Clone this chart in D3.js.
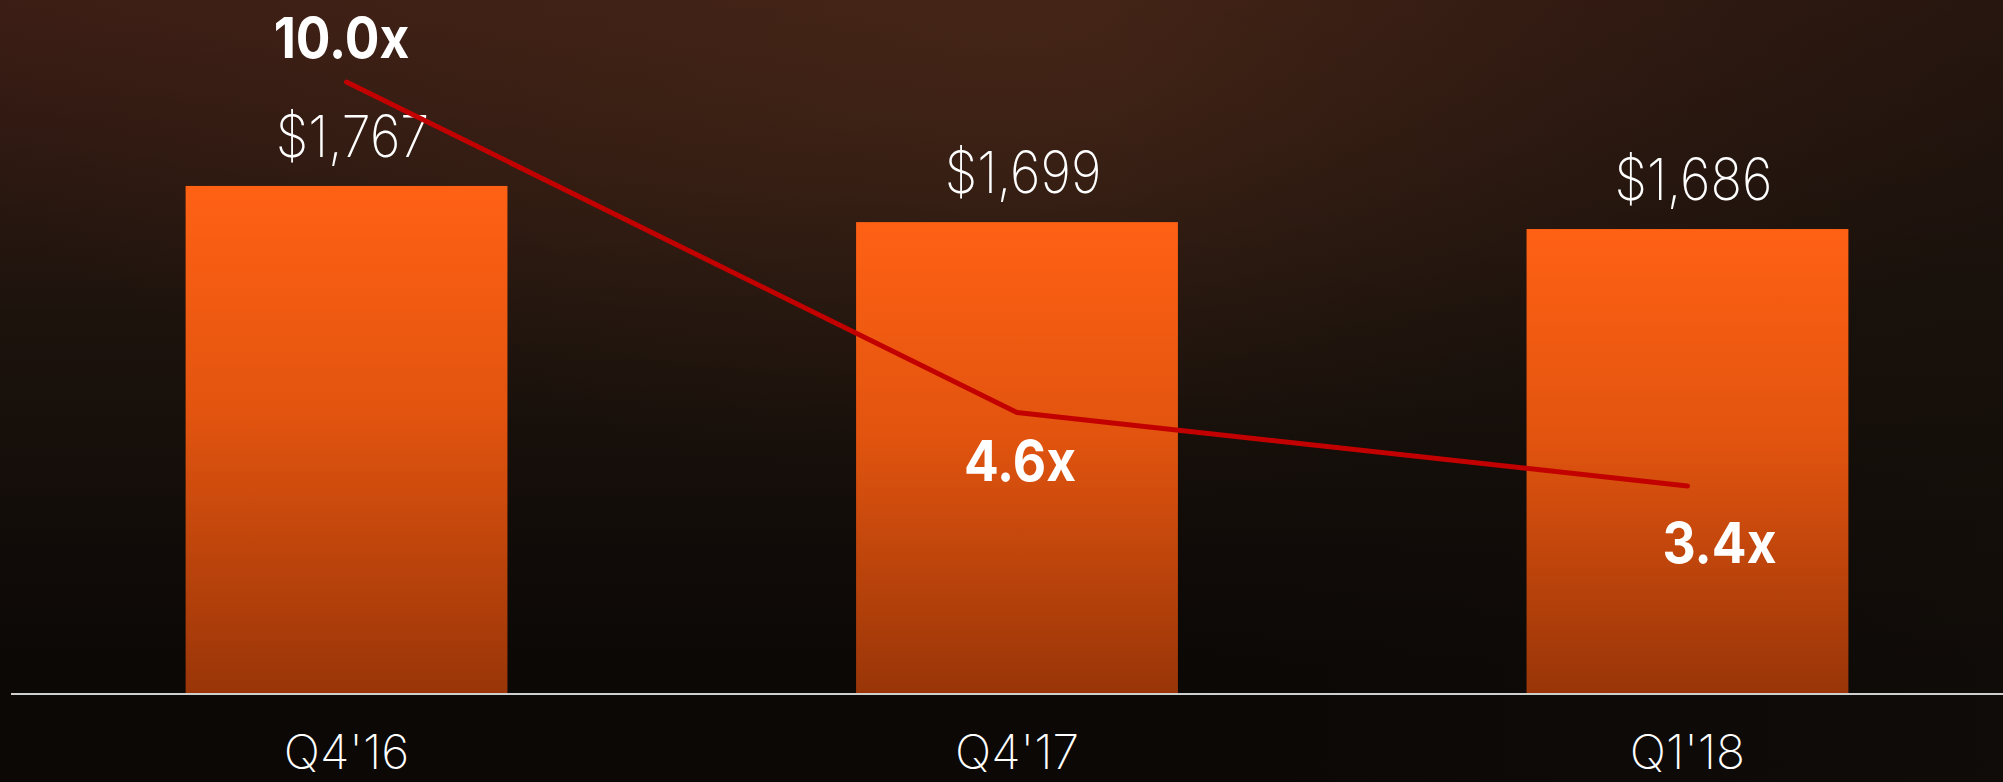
<!DOCTYPE html>
<html>
<head>
<meta charset="utf-8">
<script src="https://cdn.jsdelivr.net/npm/d3@7"></script>
<style>
  html, body { margin: 0; padding: 0; background: #0b0806; overflow: hidden; }
</style>
</head>
<body>
<div class="canvas_area"></div>
<script>
// DATA
const quarters = ["Q4'16", "Q4'17", "Q1'18"];
const prices = [1767, 1699, 1686];
const ratios = [10.0, 4.6, 3.4];
const priceLabels = ["$1,767", "$1,699", "$1,686"];
const ratioLabels = ["10.0x", "4.6x", "3.4x"];

const svgwidth = 2003;
const svgheight = 782;
const baseline = 694;

const svg = d3.select(".canvas_area").append("svg")
    .attr("width", svgwidth)
    .attr("height", svgheight);

const defs = svg.append("defs");

// BACKGROUND
const bg = defs.append("linearGradient").attr("id", "bg")
    .attr("x1", 0).attr("y1", 0).attr("x2", 0).attr("y2", 1);
bg.append("stop").attr("offset", "0%").attr("stop-color", "#3c1d15");
bg.append("stop").attr("offset", "40%").attr("stop-color", "#1d130d");
bg.append("stop").attr("offset", "85%").attr("stop-color", "#0b0806");

const glow = defs.append("radialGradient").attr("id", "glow")
    .attr("cx", 0.5).attr("cy", 0.05).attr("r", 0.55);
glow.append("stop").attr("offset", "0%").attr("stop-color", "#4a2a18").attr("stop-opacity", 0.6);
glow.append("stop").attr("offset", "100%").attr("stop-color", "#4a2a18").attr("stop-opacity", 0);

const shade = defs.append("linearGradient").attr("id", "shade")
    .attr("x1", 0).attr("y1", 0).attr("x2", 1).attr("y2", 0);
shade.append("stop").attr("offset", "55%").attr("stop-color", "#0e0b08").attr("stop-opacity", 0);
shade.append("stop").attr("offset", "100%").attr("stop-color", "#140f0a").attr("stop-opacity", 0.55);

// BAR GRADIENT
const barGrad = defs.append("linearGradient").attr("id", "bar")
    .attr("x1", 0).attr("y1", 0).attr("x2", 0).attr("y2", 1);
barGrad.append("stop").attr("offset", "0%").attr("stop-color", "#ff6114");
barGrad.append("stop").attr("offset", "45%").attr("stop-color", "#e2540f");
barGrad.append("stop").attr("offset", "100%").attr("stop-color", "#993508");

svg.append("rect").attr("width", svgwidth).attr("height", svgheight).attr("fill", "url(#bg)");
svg.append("rect").attr("width", svgwidth).attr("height", svgheight).attr("fill", "url(#glow)");
svg.append("rect").attr("width", svgwidth).attr("height", svgheight).attr("fill", "url(#shade)");

// SCALES
const X = d3.scaleBand()
    .domain(quarters)
    .range([18, 2016])
    .paddingInner(0.52)
    .paddingOuter(0.25);

const Y = d3.scaleLinear()
    .domain([812, 2000])
    .range([baseline, baseline - 1188 * 0.532]);

const R = d3.scaleLinear()
    .domain([0, 10])
    .range([baseline, 82]);

const cx = q => X(q) + X.bandwidth() / 2;

// BARS
svg.selectAll(".bar")
    .data(quarters)
    .enter().append("rect").classed("bar", true)
    .attr("x", d => X(d))
    .attr("y", (d, i) => Y(prices[i]))
    .attr("width", X.bandwidth())
    .attr("height", (d, i) => baseline - Y(prices[i]))
    .attr("fill", "url(#bar)");

// AXIS
const xAxis = svg.append("g")
    .attr("transform", `translate(0, ${baseline})`)
    .call(d3.axisBottom(X).tickSize(0).tickPadding(75));
xAxis.select(".domain").remove();
xAxis.append("line")
    .attr("x1", 11).attr("x2", svgwidth)
    .attr("y1", 0).attr("y2", 0)
    .attr("stroke", "#cfcfcf")
    .attr("stroke-width", 2);
xAxis.selectAll("text")
    .attr("fill", "#ffffff")
    .attr("dy", 0)
    .style("font-family", "Inter, 'Noto Sans', sans-serif")
    .style("font-weight", 200)
    .style("font-size", "48px");

// PRICE LABELS
svg.selectAll(".price")
    .data(quarters)
    .enter().append("text").classed("price", true)
    .attr("transform", (d, i) => `translate(${cx(d) + 6}, ${Y(prices[i]) - 29}) scale(0.9, 1)`)
    .attr("text-anchor", "middle")
    .attr("fill", "#ffffff")
    .style("font-family", "Inter, 'Noto Sans', sans-serif")
    .style("font-weight", 200)
    .style("font-size", "58px")
    .text((d, i) => priceLabels[i]);

// RATIO LINE
const line = d3.line()
    .x(d => cx(d.q))
    .y(d => R(d.v));

svg.append("path")
    .datum(quarters.map((q, i) => ({q: q, v: ratios[i]})))
    .attr("d", line)
    .attr("fill", "none")
    .attr("stroke", "#c30000")
    .attr("stroke-width", 5)
    .attr("stroke-linecap", "round")
    .attr("stroke-linejoin", "round");

// RATIO LABELS
const ratioOffset = [{dx: -5, dy: -24}, {dx: 3, dy: 69}, {dx: 32, dy: 77}];
svg.selectAll(".ratio")
    .data(quarters)
    .enter().append("text").classed("ratio", true)
    .attr("transform", (d, i) => `translate(${cx(d) + ratioOffset[i].dx}, ${R(ratios[i]) + ratioOffset[i].dy}) scale(0.92, 1)`)
    .attr("text-anchor", "middle")
    .attr("fill", "#ffffff")
    .style("font-family", "Inter, 'Noto Sans', sans-serif")
    .style("font-weight", 700)
    .style("font-size", "56px")
    .text((d, i) => ratioLabels[i]);
</script>
</body>
</html>
